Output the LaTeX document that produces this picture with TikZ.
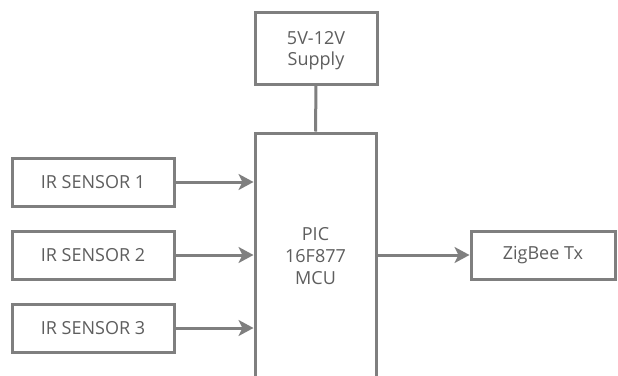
\documentclass[tikz,border=0pt]{standalone}
\usepackage{fontspec}
\setmainfont{Open Sans}
\usetikzlibrary{arrows.meta}
\definecolor{ln}{HTML}{7F7F7F}
\definecolor{tx}{HTML}{5E5E5E}
\tikzset{
  blk/.style={draw=ln, line width=3pt, fill=white, inner sep=0pt, font=\fontsize{18}{22}\selectfont, text=tx, align=center},
  conn/.style={draw=ln, line width=3pt},
  arr/.style={conn, -{Stealth[length=15pt,width=16pt,inset=4pt]}}
}
\begin{document}
\begin{tikzpicture}[x=1pt,y=-1pt]
\useasboundingbox (0,0) rectangle (618,375);
\clip (0,0) rectangle (618,375);
\fill[white] (0,0) rectangle (618,375);
\node[blk, minimum width=122pt, minimum height=72pt] (sup) at (316,48) {};
\node[font=\fontsize{18}{21}\selectfont, text=tx, align=center] (supt) at (316,51) {5V-12V\\Supply};
\node[blk, minimum width=121pt, minimum height=260pt] (mcu) at (315.5,263) {};
\node[font=\fontsize{18}{22}\selectfont, text=tx, align=center] (mcut) at (315.5,256) {PIC\\16F877\\MCU};
\node[blk, minimum width=162pt, minimum height=48pt] (s1) at (93,182) {IR SENSOR 1};
\node[blk, minimum width=162pt, minimum height=48pt] (s2) at (93,255) {IR SENSOR 2};
\node[blk, minimum width=162pt, minimum height=48pt] (s3) at (93,328) {IR SENSOR 3};
\node[blk, minimum width=144pt, minimum height=48pt] (zb) at (543,255) {ZigBee Tx};
\draw[conn] (sup.south) -- (mcu.north);
\draw[arr] (s1.east) -- (s1.east -| mcu.west);
\draw[arr] (s2.east) -- (s2.east -| mcu.west);
\draw[arr] (s3.east) -- (s3.east -| mcu.west);
\draw[arr] (zb.west -| mcu.east) -- (zb.west);
\end{tikzpicture}
\end{document}
